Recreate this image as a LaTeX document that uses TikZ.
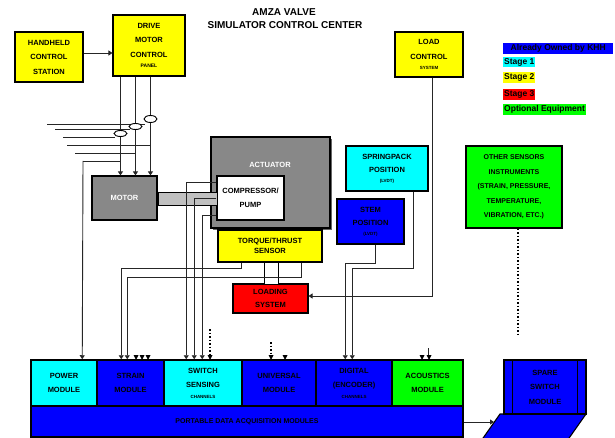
\documentclass[tikz,border=0pt]{standalone}
\usepackage{fontspec}
\setmainfont{Liberation Sans}
\usetikzlibrary{arrows.meta}
\definecolor{cyn}{RGB}{0,255,255}
\definecolor{yel}{RGB}{255,255,0}
\definecolor{grn}{RGB}{0,255,0}
\definecolor{rd}{RGB}{255,0,0}
\definecolor{blu}{RGB}{0,0,255}
\definecolor{gry}{RGB}{136,136,136}
\definecolor{lgry}{RGB}{192,192,192}
\newcommand\arrowtip[1]{\fill (#1) -- ++(-2.5,-5) -- ++(5,0) -- cycle;}
\begin{document}
\begin{tikzpicture}[x=1pt,y=-1pt,
  box/.style={draw=black,line width=1.1pt,inner sep=0pt,align=center,font=\bfseries\fontsize{7.5}{14.5}\selectfont},
  modbox/.style={box,line width=1.5pt,minimum height=46pt},
  wire/.style={line width=0.9pt,draw=black!85},
  arr/.style={wire,-{Triangle[width=5pt,length=4pt]}},
  dotw/.style={line width=1.3pt,dash pattern=on 1.5pt off 2pt},
  leg/.style={anchor=west,inner xsep=1pt,inner ysep=0pt,minimum height=10.5pt,font=\bfseries\fontsize{8.5}{10}\selectfont},
]
\useasboundingbox (0,0) rectangle (615,438);

% title
\node[font=\bfseries\fontsize{10}{12}\selectfont] (t1) at (284,12) {AMZA VALVE};
\node[font=\bfseries\fontsize{10}{12}\selectfont] (t2) at (285,25) {SIMULATOR CONTROL CENTER};

% legend
\node[leg,fill=blu,minimum width=110pt] (lg1) at (503,48.5) {Already Owned by KHH};
\node[leg,fill=cyn] (lg2) at (503,62) {Stage 1};
\node[leg,fill=yel] (lg3) at (503,77.5) {Stage 2};
\node[leg,fill=rd] (lg4) at (503,94.5) {Stage 3};
\node[leg,fill=grn] (lg5) at (503,109.5) {Optional Equipment};

% top boxes
\node[box,fill=yel,minimum width=68pt,minimum height=50pt] (hh) at (49,57) {HANDHELD\\CONTROL\\STATION};
\node[box,fill=yel,minimum width=72pt,minimum height=61pt] (mcp) at (149,45.5) {DRIVE\\MOTOR\\CONTROL\\[-4pt]{\fontsize{5}{6}\selectfont PANEL}};
\node[box,fill=yel,minimum width=68pt,minimum height=45pt] (lc) at (429,54.5) {LOAD\\CONTROL\\[-4pt]{\fontsize{4.5}{6}\selectfont SYSTEM}};

% motor / actuator
\node[box,fill=gry,text=white,minimum width=65pt,minimum height=44pt] (motor) at (124.5,198) {MOTOR};
\fill[black!60] (213,139) rectangle (332,230);
\node[box,fill=gry,minimum width=119pt,minimum height=91pt] (act) at (270.5,182.5) {};
\node[font=\bfseries\fontsize{7.5}{9}\selectfont,text=white] (actl) at (270,165) {ACTUATOR};
\node[box,fill=white,minimum width=67pt,minimum height=44pt] (cp) at (250.5,198) {COMPRESSOR/\\PUMP};
\node[draw=black,line width=0.8pt,fill=lgry,minimum width=60pt,minimum height=13pt,inner sep=0pt] (shaft) at (187,198.5) {};
\draw[line width=2pt] (motor.north east |- shaft.north) -- (motor.north east |- shaft.south);

% sensors
\node[box,fill=yel,minimum width=104pt,minimum height=32pt] (ts) at (270,246) {TORQUE/THRUST\\[-4pt]SENSOR};
\node[box,fill=rd,minimum width=75pt,minimum height=29pt] (ls) at (270.5,298.5) {LOADING\\[-2pt]SYSTEM};
\node[draw=black,line width=1pt,fill=white,minimum width=14pt,minimum height=22pt,inner sep=0pt] (cpl) at (271,273) {};
\node[box,fill=cyn,minimum width=82pt,minimum height=45pt] (sp) at (387,168.5) {SPRINGPACK\\[-1pt]POSITION\\[-5pt]{\fontsize{4.5}{6}\selectfont (LVDT)}};
\node[box,fill=blu,minimum width=67pt,minimum height=45pt] (stem) at (370.5,221.5) {STEM\\[-1pt]POSITION\\[-5pt]{\fontsize{4.5}{6}\selectfont (LVDT)}};
\node[box,fill=grn,minimum width=96pt,minimum height=82pt,font=\bfseries\fontsize{7}{14.5}\selectfont] (gr) at (514,187) {OTHER SENSORS\\INSTRUMENTS\\(STRAIN, PRESSURE,\\TEMPERATURE,\\VIBRATION, ETC.)};

% modules
\node[modbox,fill=cyn,minimum width=66pt] (pm) at (64,383) {POWER\\MODULE};
\node[modbox,fill=blu,minimum width=67pt] (st) at (130.5,383) {STRAIN\\MODULE};
\node[modbox,fill=cyn,minimum width=78pt] (sw) at (203,383) {SWITCH\\SENSING\\[-4pt]{\fontsize{4.5}{6}\selectfont CHANNELS}};
\node[modbox,fill=blu,minimum width=74pt] (un) at (279,383) {UNIVERSAL\\MODULE};
\node[modbox,fill=blu,minimum width=76pt] (dg) at (354,383) {DIGITAL\\(ENCODER)\\[-4pt]{\fontsize{4.5}{6}\selectfont CHANNELS}};
\node[modbox,fill=grn,minimum width=71pt] (ac) at (427.5,383) {ACOUSTICS\\MODULE};
\node[box,line width=1.5pt,fill=blu,minimum width=432pt,minimum height=31pt,font=\bfseries\fontsize{7}{9}\selectfont] (bar) at (247,421.5) {PORTABLE DATA ACQUISITION MODULES};

% laptop
\filldraw[fill=blu,line width=1.1pt] (500,414) -- (586,414) -- (567,441) -- (481,441) -- cycle;
\node[box,fill=blu,minimum width=82pt,minimum height=54pt] (lap) at (545,387) {SPARE\\SWITCH\\MODULE};
\draw[line width=1.3pt] ([xshift=9pt]lap.north west) -- ([xshift=9pt]lap.south west)
  ([xshift=-9pt]lap.north east) -- ([xshift=-9pt]lap.south east);
\coordinate (lapbase) at (494,422);
\draw[arr] (bar.east |- lapbase) -- (lapbase);

% handheld to panel
\draw[arr] ([yshift=4pt]hh.east) -- ([yshift=4pt]hh.east -| mcp.west);

% motor supply lines
\draw[arr] ([xshift=8pt]mcp.south west) -- ([xshift=29pt]motor.north west);
\draw[arr] ([xshift=23pt]mcp.south west) -- ([xshift=44pt]motor.north west);
\draw[arr] ([xshift=38pt]mcp.south west) -- ([xshift=59pt]motor.north west);

% current clamps and voltage leads
\coordinate (l1) at (47,124); \coordinate (l2) at (55,129); \coordinate (l3) at (63,137);
\coordinate (l4) at (67,145); \coordinate (l5) at (75,153); \coordinate (l6) at (83,161);
\draw[wire] (l1) -- (145,124);
\draw[wire] (l2) -- (130,129);
\draw[wire] (l3) -- (115,137);
\draw[line width=0.9pt,fill=white] (150.5,119) ellipse (6.5 and 3.5);
\draw[line width=0.9pt,fill=white] (135.5,126.5) ellipse (6.5 and 3);
\draw[line width=0.9pt,fill=white] (120.5,133.5) ellipse (6.5 and 3);
\draw[wire] (l4) -- (151,145);
\draw[wire] (l5) -- (136,153);
\draw[wire] (l6) -- (121,161);
\draw[arr] (l6) -- ([xshift=52pt]pm.north west);

% actuator switches to switch sensing
\draw[arr] ([yshift=-7pt]cp.north west) -| ([xshift=23pt]sw.north west);
\draw[arr] ([yshift=-23pt]cp.north west) -| ([xshift=31pt]sw.north west);
\draw[arr] ([yshift=-40pt]cp.north west) -| ([xshift=39pt]sw.north west);
\coordinate (swd) at (210,329);
\draw[dotw] (swd) -- (210,355);
\arrowtip{210,360}

% torque sensor to strain
\draw[arr] ([xshift=24pt]ts.south west) -- ++(0,6) -| ([xshift=25pt]st.north west);
\draw[arr] ([xshift=84pt]ts.south west) -- ++(0,15) -| ([xshift=31pt]st.north west);
\arrowtip{136,360}
\arrowtip{142,360}
\arrowtip{148,360}

% load control to loading system
\draw[arr] ([xshift=3pt]lc.south) |- ([yshift=2.5pt]ls.east);

% position sensors to digital
\draw[arr] ([xshift=68pt]sp.south west) -- ++(0,77) -| ([xshift=37pt]dg.north west);
\draw[arr] ([xshift=39pt]stem.south west) -- ++(0,19) -| ([xshift=30pt]dg.north west);

% universal module inputs
\coordinate (und) at (271,342);
\draw[dotw] (und) -- (271,355);
\arrowtip{271,360}
\arrowtip{285,360}

% optional equipment
\coordinate (grd) at (518,337);
\draw[dotw] ([xshift=4pt]gr.south) -- (grd);
\coordinate (acd) at (428,348);
\draw[wire] (acd) -- (428,356);
\arrowtip{422,360}
\arrowtip{429,360}
\end{tikzpicture}
\end{document}
